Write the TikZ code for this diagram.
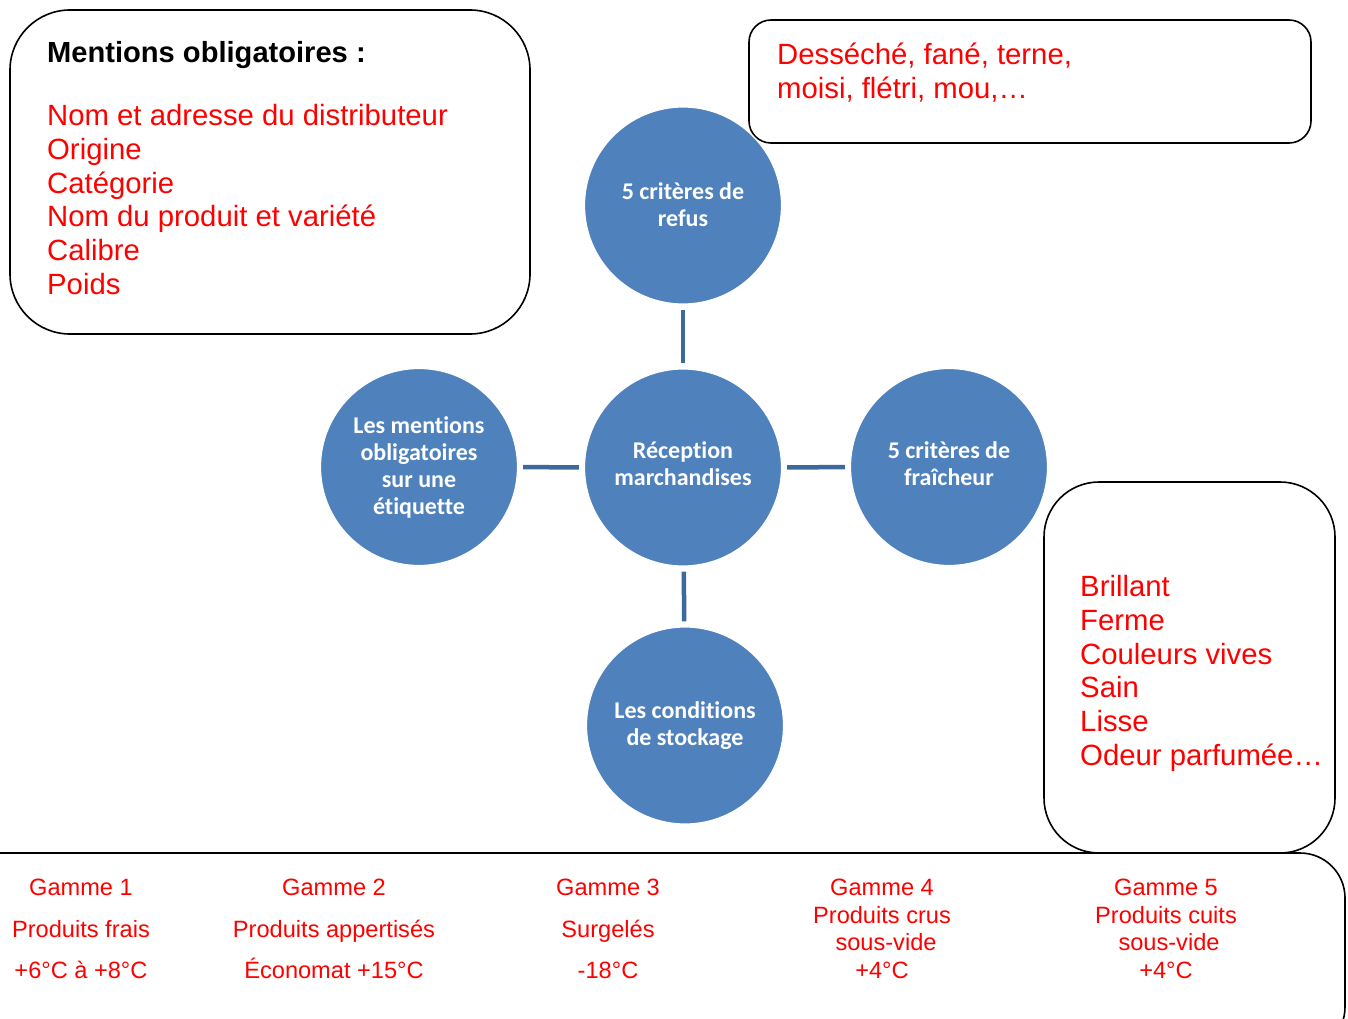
\documentclass[tikz,border=0pt]{standalone}
\usepackage{fontspec}
\setmainfont{Liberation Sans}
\newfontfamily\circlefont[RawFeature={-liga}]{Carlito}
\definecolor{nodeblue}{HTML}{4F81BD}
\definecolor{linkblue}{HTML}{3D6A9C}
\definecolor{txtred}{HTML}{FF0000}

\begin{document}
\begin{tikzpicture}[x=1pt,y=-1pt,
  panel/.style={draw=black, line width=1.6pt, fill=white},
  bubble/.style={circle, fill=nodeblue, draw=white, line width=1.2pt,
    minimum size=197pt, inner sep=0pt},
  bubbletext/.style={inner sep=0pt, text=white, align=center,
    font=\circlefont\bfseries\fontsize{24}{27}\selectfont},
  link/.style={draw=linkblue, line width=4.5pt, shorten >=5pt, shorten <=5pt},
  listline/.style={anchor=base west, inner sep=0pt, text=txtred,
    font=\fontsize{29.3}{33.8}\selectfont},
  gamme/.style={anchor=base, inner sep=0pt, text=txtred,
    font=\fontsize{23.6}{27.7}\selectfont}]

\useasboundingbox (0,0) rectangle (1348,1019);

% storage-range panel along the bottom edge
\begin{scope}
  \clip (0,0) rectangle (1348,1019);
  \draw[panel, rounded corners=45pt] (-60,853) rectangle (1345,1052);
\end{scope}

% text panels
\draw[panel, rounded corners=60pt] (10,10) rectangle (530,334);
\draw[panel, rounded corners=22pt] (749,20) rectangle (1311,143);
\draw[panel, rounded corners=55pt] (1044,482) rectangle (1335,853);

% mandatory label mentions
\node[anchor=base west, inner sep=0pt,
  font=\bfseries\fontsize{29.1}{33.8}\selectfont] (mtitle) at (47,63) {Mentions obligatoires :};
\foreach \t [count=\i] in {Nom et adresse du distributeur, Origine, Catégorie,
    Nom du produit et variété, Calibre, Poids}
  \node[listline] (mention\i) at (47,{125.5+33.8*(\i-1)}) {\t};

% refusal criteria
\node[listline] (refus1) at (777,64.5) {Desséché, fané, terne,};
\node[listline] (refus2) at (777,98.5) {moisi, flétri, mou,…};

% freshness criteria
\foreach \t [count=\i] in {Brillant, Ferme, Couleurs vives, Sain, Lisse, Odeur parfumée…}
  \node[listline] (frais\i) at (1080,{596.5+33.8*(\i-1)}) {\t};

% product ranges
\node[gamme] (g1a) at (81,895.5) {Gamme 1};
\node[gamme] (g1b) at (81,937.5) {Produits frais};
\node[gamme] (g1c) at (81,978.5) {+6°C à +8°C};

\node[gamme] (g2a) at (334,895.5) {Gamme 2};
\node[gamme] (g2b) at (334,937.5) {Produits appertisés};
\node[gamme] (g2c) at (334,978.5) {Économat +15°C};

\node[gamme] (g3a) at (608,895.5) {Gamme 3};
\node[gamme] (g3b) at (608,937.5) {Surgelés};
\node[gamme] (g3c) at (608,978.5) {-18°C};

\node[gamme] (g4a) at (882,895.5) {Gamme 4};
\node[gamme] (g4b) at (882,923.2) {Produits crus};
\node[gamme] (g4c) at (886,950.9) {sous-vide};
\node[gamme] (g4d) at (882,978.6) {+4°C};

\node[gamme] (g5a) at (1166,895.5) {Gamme 5};
\node[gamme] (g5b) at (1166,923.2) {Produits cuits};
\node[gamme] (g5c) at (1169,950.9) {sous-vide};
\node[gamme] (g5d) at (1166,978.6) {+4°C};

% central map
\node[bubble] (refus)     at (683,205.5) {};
\node[bubble] (reception) at (683,467.5) {};
\node[bubble] (etiquette) at (419,467)   {};
\node[bubble] (fraicheur) at (949,467)   {};
\node[bubble] (stockage)  at (685,725.5) {};

\node[bubbletext] (refus-t)     at ([yshift=1pt]refus)     {5 critères de\\refus};
\node[bubbletext] (reception-t) at ([yshift=4pt]reception) {Réception\\marchandises};
\node[bubbletext] (etiquette-t) at (etiquette)             {Les mentions\\obligatoires\\sur une\\étiquette};
\node[bubbletext] (fraicheur-t) at ([yshift=3pt]fraicheur) {5 critères de\\fraîcheur};
\node[bubbletext] (stockage-t)  at (stockage)              {Les conditions\\de stockage};

\draw[link] (reception) -- (refus);
\draw[link] (reception) -- (etiquette);
\draw[link] (reception) -- (fraicheur);
\draw[link] (reception) -- (stockage);

\end{tikzpicture}
\end{document}
